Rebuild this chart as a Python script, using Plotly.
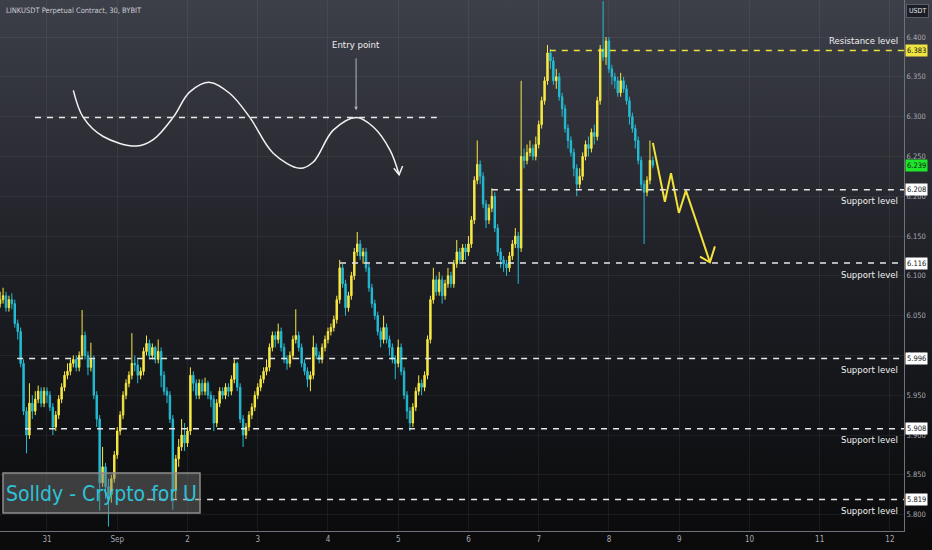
import base64
import pandas as pd
import plotly.graph_objects as go

# LINKUSDT perpetual, hourly candles (Aug 30 08:00 -> Sep 8 15:00)
START = "2023-08-30 08:00"
FIRST_OPEN = 6.065
CLOSES = [
    # Aug 30 (from 08:00)
    6.07, 6.075, 6.06, 6.07, 6.065, 6.04, 6.03, 5.99, 5.93, 5.90, 5.94, 5.93, 5.945, 5.955, 5.94, 5.955,
    # Aug 31
    5.95, 5.935, 5.91, 5.925, 5.945, 5.96, 5.975, 5.98, 5.99, 5.995, 5.985, 6.0,
    6.025, 6.0, 5.985, 5.995, 5.95, 5.92, 5.84, 5.86, 5.835, 5.825, 5.845, 5.875,
    # Sep 1
    5.905, 5.925, 5.95, 5.965, 5.975, 5.99, 5.988, 5.975, 5.98, 6.005, 6.015, 6.0,
    6.01, 5.995, 6.005, 5.975, 5.955, 5.95, 5.92, 5.83, 5.87, 5.885, 5.90, 5.89,
    # Sep 2
    5.905, 5.975, 5.965, 5.95, 5.965, 5.955, 5.965, 5.95, 5.945, 5.915, 5.94, 5.955,
    5.95, 5.96, 5.955, 5.97, 5.99, 5.96, 5.92, 5.90, 5.91, 5.925, 5.935, 5.95,
    # Sep 3
    5.96, 5.97, 5.98, 5.985, 6.01, 6.025, 6.02, 6.03, 6.01, 5.995, 5.99, 6.0,
    6.02, 6.025, 6.01, 5.99, 5.98, 5.97, 5.975, 6.01, 6.0, 5.995, 6.01, 6.02,
    # Sep 4
    6.03, 6.035, 6.045, 6.07, 6.11, 6.09, 6.06, 6.075, 6.10, 6.13, 6.14, 6.125,
    6.13, 6.11, 6.085, 6.065, 6.05, 6.03, 6.02, 6.035, 6.02, 6.01, 5.995, 5.99,
    # Sep 5
    6.01, 5.98, 5.95, 5.93, 5.915, 5.935, 5.955, 5.965, 5.96, 5.975, 6.02, 6.07,
    6.095, 6.08, 6.095, 6.075, 6.09, 6.10, 6.09, 6.115, 6.13, 6.12, 6.135, 6.13,
    # Sep 6
    6.14, 6.17, 6.22, 6.24, 6.225, 6.19, 6.17, 6.185, 6.20, 6.16, 6.13, 6.12,
    6.115, 6.11, 6.125, 6.14, 6.15, 6.135, 6.25, 6.245, 6.255, 6.26, 6.25, 6.265,
    # Sep 7
    6.29, 6.32, 6.345, 6.38, 6.37, 6.345, 6.35, 6.325, 6.31, 6.285, 6.27, 6.255,
    6.235, 6.215, 6.225, 6.25, 6.265, 6.26, 6.28, 6.275, 6.32, 6.385, 6.375, 6.395,
    # Sep 8
    6.36, 6.35, 6.345, 6.33, 6.345, 6.335, 6.32, 6.30, 6.285, 6.27, 6.245, 6.215, 6.205, 6.22, 6.245, 6.239,
]
HIGHS = [
    6.08, 6.085, 6.08, 6.075, 6.078, 6.07, 6.045, 6.035, 5.995, 5.935, 5.965, 5.95, 5.955, 5.962, 5.96, 5.96,
    5.96, 5.955, 5.94, 5.93, 5.95, 5.965, 5.98, 5.99, 5.995, 6.0, 6.0, 6.005,
    6.057, 6.03, 6.005, 6.016, 6.0, 5.955, 5.925, 5.885, 5.865, 5.845, 5.85, 5.88,
    5.91, 5.93, 5.955, 5.97, 5.98, 6.028, 6.0, 5.995, 5.985, 6.01, 6.025, 6.02,
    6.015, 6.012, 6.02, 6.01, 5.98, 5.96, 5.955, 5.925, 5.875, 5.895, 5.92, 5.915,
    5.91, 5.985, 5.98, 5.97, 5.97, 5.97, 5.972, 5.968, 5.955, 5.95, 5.945, 5.96,
    5.96, 5.965, 5.965, 5.975, 5.995, 5.992, 5.965, 5.925, 5.915, 5.93, 5.94, 5.955,
    5.965, 5.975, 5.985, 5.995, 6.015, 6.03, 6.03, 6.04, 6.035, 6.015, 6.0, 6.005,
    6.025, 6.058, 6.03, 6.015, 5.995, 5.985, 5.98, 6.025, 6.015, 6.005, 6.015, 6.025,
    6.035, 6.04, 6.05, 6.075, 6.12, 6.115, 6.095, 6.08, 6.105, 6.135, 6.155, 6.145,
    6.135, 6.135, 6.115, 6.09, 6.07, 6.055, 6.035, 6.05, 6.04, 6.025, 6.015, 6.0,
    6.02, 6.015, 5.985, 5.955, 5.935, 5.94, 5.96, 5.975, 5.97, 5.98, 6.025, 6.075,
    6.11, 6.1, 6.105, 6.1, 6.095, 6.11, 6.105, 6.12, 6.145, 6.135, 6.14, 6.14,
    6.15, 6.175, 6.225, 6.27, 6.245, 6.23, 6.195, 6.19, 6.21, 6.205, 6.165, 6.135,
    6.125, 6.12, 6.13, 6.145, 6.16, 6.155, 6.345, 6.26, 6.265, 6.27, 6.265, 6.275,
    6.295, 6.325, 6.35, 6.39, 6.385, 6.375, 6.36, 6.355, 6.33, 6.315, 6.29, 6.275,
    6.26, 6.24, 6.235, 6.255, 6.27, 6.275, 6.285, 6.29, 6.325, 6.39, 6.445, 6.4,
    6.4, 6.365, 6.355, 6.35, 6.355, 6.35, 6.34, 6.325, 6.305, 6.29, 6.275, 6.25, 6.22, 6.225, 6.27, 6.25,
]
LOWS = [
    6.06, 6.065, 6.055, 6.055, 6.058, 6.035, 6.02, 5.985, 5.925, 5.877, 5.895, 5.92, 5.925, 5.94, 5.935, 5.935,
    5.94, 5.93, 5.90, 5.905, 5.92, 5.94, 5.955, 5.97, 5.975, 5.985, 5.98, 5.98,
    5.995, 5.995, 5.975, 5.98, 5.945, 5.91, 5.805, 5.835, 5.82, 5.785, 5.815, 5.84,
    5.87, 5.9, 5.92, 5.945, 5.96, 5.97, 5.98, 5.965, 5.97, 5.975, 6.0, 5.995,
    5.995, 5.99, 5.99, 5.96, 5.95, 5.94, 5.915, 5.806, 5.82, 5.86, 5.88, 5.88,
    5.885, 5.9, 5.955, 5.945, 5.945, 5.95, 5.95, 5.945, 5.935, 5.905, 5.91, 5.935,
    5.945, 5.945, 5.948, 5.95, 5.965, 5.955, 5.915, 5.885, 5.895, 5.905, 5.92, 5.93,
    5.945, 5.955, 5.965, 5.975, 5.98, 6.005, 6.01, 6.015, 6.005, 5.99, 5.982, 5.985,
    5.995, 6.015, 6.005, 5.985, 5.975, 5.96, 5.955, 5.97, 5.995, 5.99, 5.99, 6.005,
    6.015, 6.025, 6.03, 6.04, 6.065, 6.085, 6.05, 6.055, 6.07, 6.095, 6.125, 6.12,
    6.115, 6.105, 6.08, 6.06, 6.045, 6.025, 6.01, 6.015, 6.015, 6.0, 5.99, 5.97,
    5.985, 5.975, 5.945, 5.92, 5.905, 5.91, 5.93, 5.95, 5.95, 5.955, 5.97, 6.015,
    6.065, 6.075, 6.075, 6.065, 6.07, 6.085, 6.085, 6.085, 6.11, 6.115, 6.115, 6.12,
    6.125, 6.135, 6.165, 6.215, 6.215, 6.185, 6.16, 6.165, 6.18, 6.155, 6.125, 6.11,
    6.105, 6.10, 6.105, 6.12, 6.135, 6.09, 6.13, 6.235, 6.24, 6.25, 6.245, 6.245,
    6.26, 6.285, 6.315, 6.34, 6.36, 6.34, 6.335, 6.32, 6.3, 6.28, 6.26, 6.25,
    6.225, 6.20, 6.21, 6.22, 6.245, 6.25, 6.255, 6.265, 6.27, 6.315, 6.37, 6.365,
    6.355, 6.34, 6.335, 6.325, 6.325, 6.33, 6.315, 6.29, 6.28, 6.26, 6.24, 6.21, 6.14, 6.2, 6.215, 6.235,
]
LAST_PRICE = 6.239

# horizontal levels: price, start (hours from Aug 31 00:00), label
LEVEL_PRICES = [6.383, 6.208, 6.116, 5.996, 5.908, 5.819]
LEVEL_START_H = [171.8, 152.0, 100.1, -10.2, -7.5, 34.2]
LEVEL_LABELS = ["Resistance level", "Support level", "Support level",
                "Support level", "Support level", "Support level"]

# sketched wave (hours from Aug 31 00:00, price)
WAVE_H = [9.0, 12.4, 19.2, 30.6, 36.3, 43.1, 48.8, 55.7, 62.5, 69.3, 77.3, 86.4, 91.0, 97.8, 105.8, 111.5, 117.2, 120.3]
WAVE_P = [6.333, 6.299, 6.275, 6.263, 6.271, 6.299, 6.331, 6.343, 6.329, 6.299, 6.254, 6.235, 6.243, 6.283, 6.299, 6.287, 6.258, 6.227]
WAVE_HEAD_H = [118.5, 120.3, 121.5]
WAVE_HEAD_P = [6.235, 6.227, 6.238]
ENTRY_LINE_H = [-4.1, 133.2]
ENTRY_PRICE = 6.299
ENTRY_TEXT_H = 105.6

# projected zig-zag
ZIG_H = [207.0, 211.1, 213.2, 215.9, 218.3, 226.5]
ZIG_P = [6.267, 6.193, 6.229, 6.179, 6.207, 6.117]
ZIG_HEAD_H = [223.1, 226.5, 228.2]
ZIG_HEAD_P = [6.124, 6.117, 6.137]

DAY_TICKS = ["2023-08-31", "2023-09-01", "2023-09-02", "2023-09-03", "2023-09-04", "2023-09-05", "2023-09-06",
             "2023-09-07", "2023-09-08", "2023-09-09", "2023-09-10", "2023-09-11", "2023-09-12"]
DAY_LABELS = ["31", "Sep", "2", "3", "4", "5", "6", "7", "8", "9", "10", "11", "12"]
Y_TICKS = [5.80, 5.85, 5.90, 5.95, 6.00, 6.05, 6.10, 6.15, 6.20, 6.25, 6.30, 6.35, 6.40]

UP = "#f7e843"
DOWN = "#24bcd4"
FONT = "Liberation Sans Narrow, DejaVu Sans Condensed, Roboto, sans-serif"

ANCHOR = pd.Timestamp("2023-08-31 00:00")


def t(h):
    return ANCHOR + pd.Timedelta(hours=h)


W, H = 932, 550
PW, PH = 904, 531  # plot area in pixels


def px(x):
    return x / PW


def py(y):
    return 1 - y / PH


times = pd.date_range(START, periods=len(CLOSES), freq="h")
opens = [FIRST_OPEN] + CLOSES[:-1]

fig = go.Figure()

fig.add_trace(go.Candlestick(
    x=times, open=opens, high=HIGHS, low=LOWS, close=CLOSES,
    increasing=dict(line=dict(color=UP, width=1), fillcolor=UP),
    decreasing=dict(line=dict(color=DOWN, width=1), fillcolor=DOWN),
    whiskerwidth=0, hoverinfo="skip", showlegend=False,
))

# wave sketch
fig.add_trace(go.Scatter(x=[t(h) for h in WAVE_H], y=WAVE_P, mode="lines",
                         line=dict(color="#f2f2f2", width=1.5, shape="spline", smoothing=1.0),
                         hoverinfo="skip", showlegend=False))
fig.add_trace(go.Scatter(x=[t(h) for h in WAVE_HEAD_H], y=WAVE_HEAD_P, mode="lines",
                         line=dict(color="#f2f2f2", width=1.5), hoverinfo="skip", showlegend=False))

# zig-zag projection
fig.add_trace(go.Scatter(x=[t(h) for h in ZIG_H], y=ZIG_P, mode="lines",
                         line=dict(color="#f2e33a", width=2), hoverinfo="skip", showlegend=False))
fig.add_trace(go.Scatter(x=[t(h) for h in ZIG_HEAD_H], y=ZIG_HEAD_P, mode="lines",
                         line=dict(color="#f2e33a", width=2), hoverinfo="skip", showlegend=False))

shapes = []
annotations = []

# levels
for price, h0, label in zip(LEVEL_PRICES, LEVEL_START_H, LEVEL_LABELS):
    resistance = label.startswith("Resistance")
    col = "#ebe23c" if resistance else "#e6e6e6"
    shapes.append(dict(type="line", xref="x", yref="y", x0=t(h0), x1=t(292.8), y0=price, y1=price,
                       line=dict(color=col, width=1.5, dash="6px,6px")))
    annotations.append(dict(xref="paper", yref="y", x=px(900), y=price, text=label, showarrow=False,
                            xanchor="right", yanchor="middle", yshift=10 if resistance else -11,
                            font=dict(family=FONT, size=9.5, color="#f0f0f0")))
    annotations.append(dict(xref="paper", yref="y", x=1, y=price, text=f"{price:.3f}", showarrow=False,
                            xanchor="left", yanchor="middle", xshift=1, borderpad=1,
                            bgcolor="#f0e442" if resistance else "#ffffff",
                            font=dict(family=FONT, size=7.5, color="#131313")))

annotations.append(dict(xref="paper", yref="y", x=1, y=LAST_PRICE, text=f"{LAST_PRICE:.3f}", showarrow=False,
                        xanchor="left", yanchor="middle", xshift=1, borderpad=1, bgcolor="#1ee62a",
                        font=dict(family=FONT, size=7.5, color="#131313")))

# entry line and label
shapes.append(dict(type="line", xref="x", yref="y", x0=t(ENTRY_LINE_H[0]), x1=t(ENTRY_LINE_H[1]),
                   y0=ENTRY_PRICE, y1=ENTRY_PRICE, line=dict(color="#e6e6e6", width=1.5, dash="6px,6px")))
annotations.append(dict(xref="x", yref="y", x=t(ENTRY_TEXT_H), y=ENTRY_PRICE + 0.009, ax=t(ENTRY_TEXT_H),
                        ay=ENTRY_PRICE + 0.076, axref="x", ayref="y", text="", showarrow=True,
                        arrowhead=2, arrowsize=0.7, arrowwidth=1, arrowcolor="#b4b6bc"))
annotations.append(dict(xref="x", yref="y", x=t(ENTRY_TEXT_H), y=ENTRY_PRICE + 0.091, text="Entry point",
                        showarrow=False, font=dict(family=FONT, size=9.5, color="#f0f0f0")))

# header, currency tag, watermark box
annotations.append(dict(xref="paper", yref="paper", x=px(4), y=py(11), text="LINKUSDT Perpetual Contract, 30, BYBIT",
                        showarrow=False, xanchor="left", yanchor="middle",
                        font=dict(family=FONT, size=7.5, color="#c9cbd1")))
annotations.append(dict(xref="paper", yref="paper", x=px(917), y=py(11), text="USDT", showarrow=False,
                        xanchor="center", yanchor="middle", bgcolor="#1b1e27", bordercolor="#5a5d66",
                        borderwidth=1, borderpad=2, font=dict(family=FONT, size=7, color="#e8e8e8")))
shapes.append(dict(type="rect", xref="paper", yref="paper", x0=px(3), x1=px(200), y0=py(513), y1=py(473),
                   fillcolor="rgba(120,120,120,0.45)", line=dict(color="#8c8c8c", width=1.5)))
annotations.append(dict(xref="paper", yref="paper", x=px(101), y=py(494), text="Solldy - Crypto for U",
                        showarrow=False, xanchor="center", yanchor="middle",
                        font=dict(family=FONT, size=21, color="#2ec2d6")))

# background gradient
svg = ('<svg xmlns="http://www.w3.org/2000/svg" width="932" height="550">'
       '<defs><linearGradient id="g" x1="0" y1="0" x2="0" y2="1">'
       '<stop offset="0" stop-color="#3d3f49"/><stop offset="0.5" stop-color="#1e1f25"/>'
       '<stop offset="0.8" stop-color="#111215"/><stop offset="1" stop-color="#0a0a0b"/>'
       '</linearGradient></defs><rect width="932" height="550" fill="url(#g)"/></svg>')
bg_src = "data:image/svg+xml;base64," + base64.b64encode(svg.encode()).decode()

fig.update_layout(
    width=W, height=H, autosize=False,
    margin=dict(l=0, r=W - PW, t=0, b=H - PH),
    paper_bgcolor="#0a0a0b", plot_bgcolor="rgba(0,0,0,0)",
    images=[dict(source=bg_src, xref="paper", yref="paper", x=0, y=1, sizex=W / PW, sizey=H / PH,
                 xanchor="left", yanchor="top", sizing="stretch", layer="below")],
    shapes=shapes, annotations=annotations,
    showlegend=False, hovermode=False,
)
fig.update_xaxes(
    type="date", range=[t(-16.05), t(292.8)], rangeslider=dict(visible=False),
    tickvals=DAY_TICKS, ticktext=DAY_LABELS, ticks="",
    showgrid=True, gridcolor="rgba(255,255,255,0.06)", gridwidth=1,
    showline=True, linecolor="#6f727b", linewidth=1, zeroline=False,
    tickfont=dict(family=FONT, size=8, color="#a6a9b1"),
)
fig.update_yaxes(
    side="right", range=[5.7794, 6.4465], tickvals=Y_TICKS, tickformat=".3f", ticks="",
    showgrid=True, gridcolor="rgba(255,255,255,0.06)", gridwidth=1,
    showline=True, linecolor="#6f727b", linewidth=1, zeroline=False,
    tickfont=dict(family=FONT, size=7.5, color="#a6a9b1"),
)

# drop the default page margin so the 932x550 figure fills the window
fig.write_html("out.html", config={"displayModeBar": False},
               post_script="document.body.style.margin='0';document.body.style.overflow='hidden';")
